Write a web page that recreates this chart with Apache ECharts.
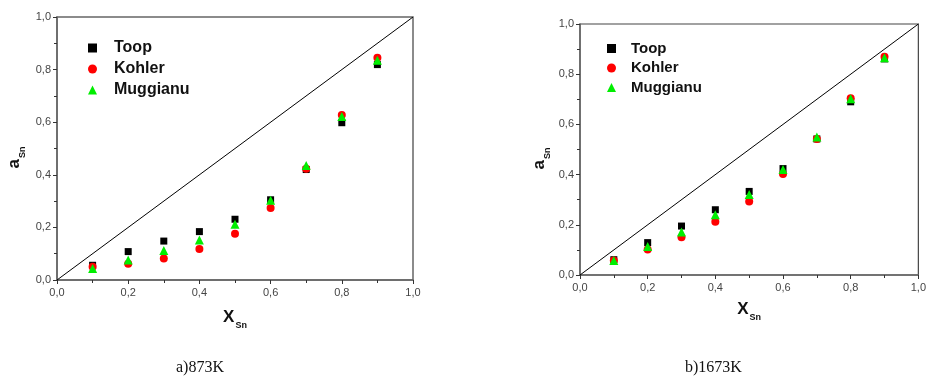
<!DOCTYPE html>
<html><head><meta charset="utf-8">
<script src="https://cdn.jsdelivr.net/npm/echarts@6/dist/echarts.min.js"></script>
<style>html,body{margin:0;padding:0;background:#fff}#c{width:929px;height:383px}</style>
</head><body><div id="c"></div>
<script>
var xs = [0.1, 0.2, 0.3, 0.4, 0.5, 0.6, 0.7, 0.8, 0.9];
var toop873 = [0.056, 0.108, 0.148, 0.184, 0.231, 0.305, 0.420, 0.598, 0.819];
var kohler873 = [0.050, 0.062, 0.082, 0.118, 0.176, 0.274, 0.423, 0.627, 0.845];
var mugg873 = [0.044, 0.076, 0.112, 0.152, 0.212, 0.303, 0.435, 0.622, 0.836];
var toop1673 = [0.061, 0.129, 0.195, 0.260, 0.333, 0.424, 0.542, 0.690, 0.861];
var kohler1673 = [0.058, 0.102, 0.150, 0.212, 0.293, 0.402, 0.542, 0.704, 0.870];
var mugg1673 = [0.058, 0.114, 0.171, 0.240, 0.321, 0.420, 0.550, 0.702, 0.866];
var diag = [[0, 0], [1, 1]];
var captions = ['a)873K', 'b)1673K'];
var seriesNames = ['Toop', 'Kohler', 'Muggianu'];

function pts(v) { return xs.map(function (x, i) { return [x, v[i]]; }); }
function fmt(v) { return v.toFixed(1).replace('.', ','); }

var chart = echarts.init(document.getElementById('c'));
var font = 'Arial, "Liberation Sans", sans-serif';
var axisCol = '#666';
var richName = {
  b: { fontSize: 17, fontWeight: 'bold', fontFamily: font, color: '#111', lineHeight: 20, verticalAlign: 'bottom' },
  s: { fontSize: 9, fontWeight: 'bold', fontFamily: font, color: '#111', lineHeight: 20, verticalAlign: 'bottom', padding: [0, 0, -4, 1] }
};

function xAxis(g) {
  return {
    type: 'value', gridIndex: g, min: 0, max: 1, interval: 0.2,
    axisLine: { show: true, lineStyle: { color: axisCol, width: 1.5 } },
    axisTick: { show: true, length: 4, lineStyle: { color: '#333' } },
    minorTick: { show: true, splitNumber: 2, length: 3, lineStyle: { color: '#333' } },
    splitLine: { show: false },
    axisLabel: { formatter: fmt, color: '#444', fontSize: 11, fontFamily: font, margin: 7 },
    name: '{b|X}{s|Sn}', nameLocation: 'middle', nameGap: g === 0 ? 26 : 23,
    nameTextStyle: { rich: richName }
  };
}
function yAxis(g) {
  return {
    type: 'value', gridIndex: g, min: 0, max: 1, interval: 0.2,
    axisLine: { show: true, lineStyle: { color: axisCol, width: 1.5 } },
    axisTick: { show: true, length: 4, lineStyle: { color: '#333' } },
    minorTick: { show: true, splitNumber: 2, length: 3, lineStyle: { color: '#333' } },
    splitLine: { show: false },
    axisLabel: { formatter: fmt, color: '#444', fontSize: 11, fontFamily: font, margin: 6 },
    name: '{b|a}{s|Sn}', nameLocation: 'middle', nameGap: g === 0 ? 34 : 32, nameRotate: 90,
    nameTextStyle: { rich: richName, padding: [0, 18, 0, 0] }
  };
}

var mk = [
  { sym: 'rect', size: 7, color: '#000' },
  { sym: 'circle', size: 8, color: '#ff0000' },
  { sym: 'triangle', size: 9, color: '#00ee00' }
];
var sets = [[toop873, kohler873, mugg873], [toop1673, kohler1673, mugg1673]];
var series = [];
[0, 1].forEach(function (g) {
  series.push({ type: 'line', xAxisIndex: g, yAxisIndex: g, data: diag, symbol: 'none',
    lineStyle: { color: '#000', width: 1 }, silent: true, z: 1 });
  sets[g].forEach(function (arr, i) {
    series.push({ type: 'scatter', name: seriesNames[i], xAxisIndex: g, yAxisIndex: g,
      data: pts(arr), symbol: mk[i].sym, symbolSize: mk[i].size,
      itemStyle: { color: mk[i].color, opacity: 1 }, z: 2 + i });
  });
});

function legend(left, top, gap, fs, pad) {
  return {
    left: left, top: top, orient: 'vertical', itemGap: gap, itemWidth: 9, itemHeight: 9,
    data: [
      { name: 'Toop', icon: 'rect', itemStyle: { color: '#000' } },
      { name: 'Kohler', icon: 'circle', itemStyle: { color: '#ff0000' } },
      { name: 'Muggianu', icon: 'triangle', itemStyle: { color: '#00ee00' } }
    ],
    textStyle: { fontSize: fs, fontWeight: 'bold', fontFamily: font, color: '#111', padding: [0, 0, 0, pad] },
    selectedMode: false
  };
}

chart.setOption({
  animation: false,
  grid: [
    { left: 57, top: 17, width: 356, height: 263, show: true, borderColor: '#666', borderWidth: 1.5, backgroundColor: 'transparent' },
    { left: 580, top: 24, width: 342, height: 251, show: true, borderColor: '#444', borderWidth: 1.2, backgroundColor: 'transparent' }
  ],
  xAxis: [xAxis(0), xAxis(1)],
  yAxis: [yAxis(0), yAxis(1)],
  legend: [legend(83, 35, 5, 16, 12), legend(602, 36, 4.5, 15, 10)],
  series: series,
  graphic: [
    { type: 'text', left: 176, top: 360, style: { text: captions[0], font: '16px "Liberation Serif", "Times New Roman", serif', fill: '#111' } },
    { type: 'text', left: 685, top: 360, style: { text: captions[1], font: '16px "Liberation Serif", "Times New Roman", serif', fill: '#111' } }
  ]
});
</script></body></html>
